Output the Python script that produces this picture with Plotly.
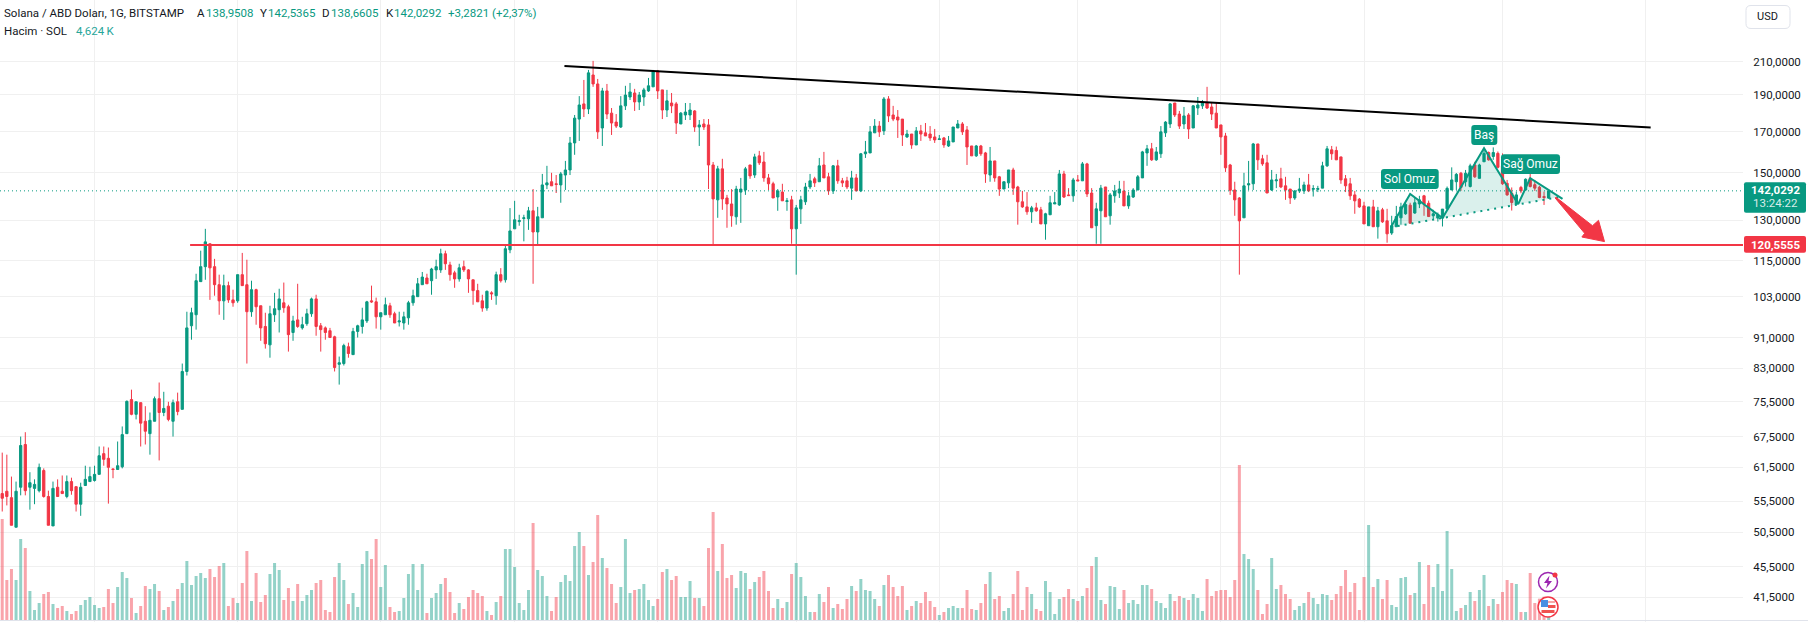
import pandas as pd
import plotly.graph_objects as go

START = "2023-11-11"
OPEN = [56.8,57.2,56.1,51.3,57.9,65.9,57.9,57.7,57.3,60.9,
56.3,51.5,57.9,57.2,56.3,58.9,58.0,55.0,58.2,58.9,
59.1,60.2,64.1,63.2,61.2,61.1,61.6,68.1,75.5,72.2,
74.8,70.7,68.1,70.7,75.7,72.6,74.0,70.7,75.0,73.3,
82.2,94.4,97.6,107.9,112.9,121.0,112.9,106.9,101.8,106.6,
102.1,101.8,110.2,106.9,98.5,105.3,100.3,94.2,89.1,97.6,
99.1,101.2,100.0,92.5,96.1,93.8,95.0,97.9,102.4,94.4,
93.8,93.0,91.3,84.0,84.2,88.6,86.5,92.8,94.2,95.8,
101.8,101.5,97.0,97.6,100.3,97.9,95.5,95.2,96.7,101.2,
103.1,106.9,109.1,108.2,111.8,111.8,117.4,113.5,110.8,108.8,
112.9,111.8,108.5,105.0,101.8,99.6,104.3,103.4,110.2,108.5,
118.8,126.6,129.4,130.6,130.5,133.7,125.4,130.9,144.6,146.0,
145.1,144.6,149.0,151.3,164.2,176.5,184.8,182.0,201.7,196.3,
171.8,192.2,179.7,174.9,172.3,183.7,188.7,191.0,185.9,188.7,
192.2,194.6,204.2,192.8,181.4,185.3,184.8,173.9,178.7,178.7,
180.9,172.3,173.9,173.4,153.6,138.2,151.8,139.0,136.5,131.3,
141.5,142.4,153.6,149.0,157.9,155.0,147.7,145.1,139.4,141.5,
137.5,138.2,126.6,134.5,137.4,143.7,147.3,146.0,153.6,148.2,
142.0,153.2,146.4,146.4,143.2,147.7,142.0,158.9,159.3,169.3,
172.8,170.3,187.6,178.7,177.6,176.5,167.2,168.7,163.2,170.3,
169.3,168.7,167.2,165.9,166.7,162.7,164.7,171.8,173.9,170.8,
162.7,157.9,162.7,159.3,149.0,155.5,148.2,142.8,145.5,151.3,
143.7,137.4,135.3,133.3,134.9,134.1,128.5,132.1,136.5,136.1,
149.5,140.3,139.9,146.8,146.4,154.1,141.1,127.8,133.7,143.7,
131.7,139.9,141.1,142.0,135.7,139.4,142.4,147.7,159.3,161.3,
156.0,158.9,169.3,173.9,185.3,179.2,173.9,178.7,171.8,182.5,
183.7,185.3,183.1,179.7,173.4,167.7,153.6,142.4,139.0,130.9,
144.6,145.1,163.7,156.5,154.6,142.4,146.4,147.3,144.2,142.8,
139.0,142.0,142.0,144.6,142.7,142.7,143.2,153.2,160.8,160.5,
157.4,147.3,145.1,140.3,138.5,135.7,127.8,135.3,127.4,134.1,
129.7,125.0,127.4,130.9,132.5,136.0,132.8,136.5,139.9,136.8,
131.7,130.8,130.8,134.5,142.4,146.0,149.8,146.0,143.9,153.6,
147.5,155.1,159.5,157.6,159.1,153.2,145.3,141.0,136.5,143.5,
142.4,147.5,144.7,143.6,139.6,138.95]
CLOSE = [56.0,56.3,51.6,57.2,65.7,57.3,58.7,58.4,61.5,56.3,
51.6,57.7,56.3,56.8,58.9,57.3,55.0,57.9,59.3,59.8,
60.2,63.7,63.0,61.5,61.1,61.8,67.9,75.1,72.2,75.0,
70.3,68.6,70.9,75.7,72.6,73.5,71.1,74.8,72.8,82.2,
93.8,98.2,108.2,112.9,121.7,112.5,106.9,101.8,106.6,102.1,
101.2,110.2,106.6,98.5,105.3,100.0,93.8,89.4,97.9,99.4,
102.4,99.7,91.9,95.8,94.2,94.7,97.9,102.4,94.2,93.3,
92.5,91.1,83.2,84.4,88.9,86.8,92.8,94.4,96.1,101.5,
101.5,97.0,98.2,100.6,97.6,95.2,95.8,97.0,101.2,103.4,
107.2,109.4,107.2,112.1,112.9,117.4,113.9,110.2,108.8,112.5,
111.8,108.8,105.0,101.5,99.6,104.8,104.0,110.2,108.2,119.2,
125.8,130.1,129.8,130.9,133.7,125.4,131.3,144.6,145.5,144.2,
144.8,149.5,151.3,164.2,177.0,184.2,182.0,203.0,196.3,169.8,
192.2,179.2,174.4,172.8,183.7,189.8,191.6,185.9,189.8,192.8,
195.2,203.6,192.2,181.4,186.5,183.7,174.4,179.7,180.3,181.4,
172.3,173.4,172.3,153.6,138.6,151.8,138.6,136.5,131.7,142.8,
142.8,151.8,148.6,157.4,154.6,147.7,145.1,139.0,142.0,137.8,
137.8,126.6,134.9,138.2,143.7,146.4,145.5,153.2,147.7,142.0,
153.2,146.4,145.5,143.7,147.7,142.0,158.9,159.8,169.8,172.8,
169.8,187.6,178.2,176.5,176.0,168.2,168.7,163.2,170.3,168.7,
167.7,166.7,165.7,166.2,163.2,165.2,172.3,173.9,169.8,162.2,
157.9,162.7,158.9,149.5,155.5,147.7,142.8,146.0,151.3,143.2,
137.4,135.3,133.3,134.9,133.7,128.5,132.5,137.0,137.0,149.5,
139.4,140.0,146.8,146.4,154.1,140.7,127.0,134.5,143.2,131.3,
140.3,142.0,142.8,135.7,139.9,142.4,148.2,159.8,161.3,156.0,
159.8,169.8,174.9,184.8,178.7,172.8,178.2,171.3,183.7,184.2,
185.3,182.5,179.2,171.8,167.2,152.3,142.3,138.2,129.7,144.2,
145.1,163.7,156.0,154.1,141.1,146.8,146.8,143.7,142.4,139.0,
142.0,142.8,144.6,142.0,143.0,143.0,153.2,161.3,158.9,156.0,
146.8,144.2,139.9,137.8,135.3,128.5,135.3,127.4,133.7,129.3,
124.7,127.8,131.4,135.3,136.3,128.8,137.0,138.2,136.5,131.4,
132.5,132.1,134.4,143.1,146.8,149.3,143.5,149.8,153.2,148.2,
153.6,159.1,156.0,159.5,152.5,145.1,140.3,137.1,140.3,142.0,
147.1,143.9,143.2,139.2,139.2,142.03]
HIGH = [64.3,63.9,59.8,58.9,67.5,68.4,60.6,59.3,62.2,61.3,
57.3,58.9,59.3,60.0,60.0,59.6,58.0,58.7,61.8,61.6,
61.8,65.5,65.5,65.3,61.3,66.5,69.6,75.3,77.8,75.0,
74.8,74.0,72.6,76.2,79.5,77.3,75.0,75.5,77.1,84.2,
98.5,99.7,110.5,118.5,126.6,121.0,115.6,110.2,110.2,107.9,
105.3,110.2,117.7,115.3,108.2,105.6,100.3,98.2,100.3,104.3,
105.6,107.6,100.6,97.3,107.2,97.0,99.4,102.8,103.7,95.2,
94.2,93.8,91.6,86.0,89.4,89.7,93.8,94.7,99.7,101.8,
106.6,102.8,98.2,102.8,101.2,98.5,98.5,98.5,101.8,105.3,
109.1,111.1,110.5,112.5,115.3,119.2,118.5,114.6,111.5,113.9,
115.0,112.1,108.5,107.2,103.7,105.0,104.8,111.2,112.4,120.3,
134.8,137.8,132.1,132.1,135.3,142.8,135.3,149.5,153.2,150.0,
149.0,150.4,155.5,167.2,178.7,189.2,198.7,204.8,210.5,199.3,
194.0,196.3,182.5,179.2,189.2,195.2,196.9,193.4,191.6,194.0,
199.9,204.8,204.8,192.8,192.8,191.0,185.9,180.3,185.3,185.3,
181.4,176.0,176.5,176.5,155.0,153.2,156.5,140.3,142.8,144.2,
147.7,152.7,153.6,158.9,160.3,159.8,149.5,146.0,142.8,145.1,
139.0,139.9,136.1,139.9,145.5,149.5,148.2,156.9,159.8,150.0,
153.6,156.0,147.7,148.2,150.9,149.5,159.3,165.2,172.8,176.5,
175.4,188.7,189.2,183.7,181.4,176.5,170.8,168.7,172.3,173.4,
174.4,172.8,171.3,168.2,167.2,167.7,172.3,176.0,174.9,172.8,
162.7,163.2,163.2,159.8,162.2,155.5,148.6,146.0,151.3,152.3,
144.2,142.0,141.5,135.7,137.0,135.3,132.9,139.9,141.5,151.3,
150.9,143.2,147.7,149.0,155.0,154.6,143.2,137.0,144.6,143.7,
141.1,144.6,146.4,146.4,141.5,143.2,149.0,160.3,163.2,164.2,
162.2,172.8,175.4,185.3,185.3,180.9,183.1,179.7,184.2,188.7,
187.0,194.6,185.3,185.3,173.4,169.3,154.1,146.0,139.4,150.0,
155.5,164.2,163.7,158.4,158.4,151.3,149.5,152.3,148.2,142.8,
142.4,147.7,146.0,149.5,144.5,144.2,155.1,162.7,162.7,162.4,
157.4,149.0,147.7,142.0,139.0,137.4,135.3,138.2,135.3,134.9,
134.5,131.7,135.7,137.0,137.5,137.0,139.0,139.9,140.3,137.9,
134.1,133.0,134.4,143.9,152.5,149.9,150.4,151.3,154.2,155.1,
154.2,161.6,160.0,162.0,160.0,159.1,146.8,143.5,141.7,144.2,
147.5,152.5,146.8,144.2,141.7,142.54]
LOW = [53.8,54.8,51.6,51.3,56.5,56.5,54.1,55.0,57.0,56.1,
51.6,51.5,56.3,56.8,56.0,56.6,53.8,53.1,58.2,58.9,
58.9,60.2,61.8,55.1,59.5,61.1,61.3,68.1,72.0,71.1,
65.5,65.9,63.9,70.7,62.8,71.8,70.7,67.5,72.0,73.3,
81.2,90.5,93.3,107.9,108.5,102.1,103.4,97.6,96.1,101.2,
100.0,101.2,106.6,84.2,97.0,94.7,90.2,88.1,85.7,95.5,
92.5,98.2,87.3,90.2,93.8,93.3,94.4,97.0,91.6,87.3,
90.5,91.1,82.2,79.0,83.7,85.7,86.5,91.1,92.2,95.2,
101.2,93.6,93.3,97.6,96.7,95.2,94.2,93.3,94.7,100.3,
103.1,106.9,107.2,103.7,108.8,110.8,111.8,108.2,105.9,107.9,
111.1,104.3,100.6,101.5,98.5,98.8,102.1,100.6,107.6,107.6,
117.6,126.6,127.8,121.9,126.2,107.2,120.6,130.9,142.8,144.2,
141.1,137.0,142.4,149.0,158.4,165.2,177.6,179.2,194.6,166.2,
162.7,176.5,168.2,171.8,171.8,181.4,187.0,180.9,181.4,183.7,
191.6,194.6,187.6,176.5,177.6,179.7,168.7,173.9,176.0,176.0,
169.8,162.7,170.8,142.8,120.7,130.9,134.1,127.0,127.4,128.2,
128.9,140.3,147.3,147.7,153.6,146.0,142.4,139.0,133.7,137.8,
133.7,121.0,110.2,128.5,136.1,142.8,143.7,146.0,147.7,140.3,
140.7,145.1,143.7,142.8,138.2,142.0,141.5,156.9,159.3,169.3,
167.2,168.2,174.9,175.4,166.7,162.7,166.7,161.3,163.2,165.2,
167.7,165.2,164.2,165.7,161.8,162.2,164.7,171.8,168.2,153.6,
157.9,157.4,157.9,145.5,146.0,146.0,139.9,142.8,143.2,140.3,
128.2,134.9,132.1,128.9,133.3,128.5,122.5,132.1,136.5,135.7,
139.0,139.9,137.4,146.4,146.4,139.4,127.0,121.0,121.0,131.3,
128.2,137.0,139.0,135.7,134.5,139.0,142.4,147.7,153.2,155.5,
155.5,156.9,167.2,171.8,177.6,171.3,171.3,166.2,171.8,178.7,
182.0,182.0,176.0,171.8,158.4,150.4,140.3,131.7,110.2,130.9,
142.4,142.4,151.3,153.2,141.1,142.0,143.2,143.2,138.2,136.5,
138.2,141.1,140.7,141.5,139.6,141.5,143.2,152.7,156.0,156.0,
145.1,141.5,138.2,132.5,134.9,128.5,127.8,127.4,122.9,128.9,
121.4,124.3,127.4,128.2,132.1,128.5,132.5,134.8,131.7,131.2,
130.1,129.4,127.5,134.1,142.4,142.4,142.0,143.9,143.5,147.7,
147.5,155.1,155.6,156.0,152.0,144.6,139.9,133.8,136.1,141.0,
142.1,143.5,142.0,138.9,136.1,138.66]
VOLUME_K = [151.5,60,76.5,60,121.5,108,43.5,15,25.5,39,
42,24,18,21,13.5,9,13.5,22.5,30,34.5,
22.5,18,19.5,46.5,25.5,49.5,72,63,33,10.5,
21,51,46.5,54,43.5,15,19.5,28.5,46.5,55.5,
88.5,52.5,66,70.5,63,76.5,64.5,81,85.5,21,
33,25.5,55.5,103.5,28.5,70.5,27,37.5,69,85.5,
75,30,48,28.5,54,28.5,37.5,45,55.5,60,
15,12,64.5,85.5,60,24,40.5,19.5,84,103.5,
91.5,121.5,49.5,82.5,19.5,12,13.5,33,69,84,
45,84,10.5,33,40.5,54,63,42,10.5,25.5,
16.5,34.5,45,40.5,36,13.5,7.5,27,36,106.5,
106.5,79.5,25.5,15,45,145.5,75,66,36,13.5,
34.5,57,67.5,58.5,111,132,111,67.5,87,157.5,
93,78,54,25.5,49.5,121.5,40.5,45,46.5,54,
30,21,31.5,72,76.5,60,66,34.5,34.5,58.5,
33,33,21,108,162,73.5,114,63,67.5,48,
73.5,70.5,46.5,57,64.5,73.5,43.5,18,31.5,18,
27,69,85.5,64.5,36,12,12,39,27,49.5,
18,24,16.5,31.5,51,43.5,61.5,45,43.5,31.5,
21,52.5,67.5,49.5,36,51,15,21,28.5,25.5,
42,28.5,19.5,7.5,12,18,21,18,18,45,
16.5,15,25.5,54,72,31.5,36,13.5,18,39,
73.5,15,49.5,39,16.5,13.5,58.5,42,9,31.5,
34.5,46.5,31.5,28.5,36,48,81,94.5,30,24,
51,49.5,16.5,45,25.5,30,24,52.5,52.5,46.5,
28.5,25.5,18,39,28.5,36,33,30,39,33,
13.5,61.5,36,43.5,45,45,34.5,60,232.5,99,
91.5,76.5,45,9,24,93,46.5,52.5,39,31.5,
15,21,25.5,42,33,24,39,37.5,30,39,
51,75,42,55.5,15,64.5,142.5,49.5,61.5,31.5,
60,22.5,19.5,63,64.5,37.5,40.5,87,24,82.5,
49.5,84,43.5,133.5,76.5,13.5,18,22.5,42,28.5,
45,67.5,21,31.5,24,42,60,55.5,54,12,
12,70.5,25.5,32,35,4.6]

PRICE_TICKS = [41.5,45.5,50.5,55.5,61.5,67.5,75,83,91,103,115,130,150,170,190,210]
PRICE_LABELS = ["41,5000","45,5000","50,5000","55,5000","61,5000","67,5000","75,5000","83,0000",
                "91,0000","103,0000","115,0000","130,0000","150,0000","170,0000","190,0000","210,0000"]
LAST_PRICE = 142.0292
SUPPORT = 120.5555
TREND_DAY = [121.8, 357.1]
TREND_PRICE = [207.3, 172.0]
HS_DAY = [300.8, 305, 312, 321, 328.4, 331, 338]
HS_PRICE = [127.2, 140.7, 130.8, 161.6, 136.4, 147.6, 138.6]
NECK_DAY = [300.8, 312, 328.4, 337.1]
NECK_PRICE = [127.2, 130.8, 136.4, 139.3]
ARROW_DAY = [336.6, 344.5, 345.8, 347.1, 342.2, 342.8, 336.4, 336.6]
ARROW_PRICE = [139.3, 127.8, 129.9, 121.8, 123.5, 124.9, 139.0, 139.3]

UP, DOWN = "#089981", "#F23645"
TXT = "#131722"
FONT = "Roboto"
W, H, PLOT_W = 1808, 622, 1743

base = pd.Timestamp(START)
def day(d):
    return (base + pd.Timedelta(days=d)).isoformat()
dates = [day(i) for i in range(len(OPEN))]
vol_colors = ["rgba(8,153,129,0.44)" if c >= o else "rgba(242,54,69,0.45)" for o, c in zip(OPEN, CLOSE)]

fig = go.Figure()
fig.add_bar(x=dates, y=VOLUME_K, marker=dict(color=vol_colors, line_width=0), yaxis="y", hoverinfo="skip")
x_ends = [day(-0.48), day(377.1)]
fig.add_scatter(x=x_ends, y=[LAST_PRICE]*2, yaxis="y2", mode="lines", hoverinfo="skip",
                line=dict(color=UP, width=1, dash="1px,3px"))
fig.add_candlestick(x=dates, open=OPEN, high=HIGH, low=LOW, close=CLOSE, yaxis="y2", hoverinfo="skip",
                    increasing=dict(line=dict(color=UP, width=1), fillcolor=UP),
                    decreasing=dict(line=dict(color=DOWN, width=1), fillcolor=DOWN),
                    whiskerwidth=0)
# head-and-shoulders fill
tx, ty = [], []
for tri in ([0, 1, 2, 0], [2, 3, 4, 2]):
    tx += [day(HS_DAY[k]) for k in tri] + [None]
    ty += [HS_PRICE[k] for k in tri] + [None]
tx += [day(HS_DAY[4]), day(HS_DAY[5]), day(NECK_DAY[3]), day(HS_DAY[4])]
ty += [HS_PRICE[4], HS_PRICE[5], NECK_PRICE[3], HS_PRICE[4]]
fig.add_scatter(x=tx, y=ty, yaxis="y2", mode="none", fill="toself", fillcolor="rgba(8,153,129,0.15)", hoverinfo="skip")
fig.add_scatter(x=[day(d) for d in HS_DAY], y=HS_PRICE, yaxis="y2", mode="lines", hoverinfo="skip",
                line=dict(color=UP, width=2))
fig.add_scatter(x=[day(d) for d in NECK_DAY], y=NECK_PRICE, yaxis="y2", mode="lines", hoverinfo="skip",
                line=dict(color=UP, width=2, dash="2px,5px"))
fig.add_scatter(x=[day(d) for d in TREND_DAY], y=TREND_PRICE, yaxis="y2", mode="lines", hoverinfo="skip",
                line=dict(color="#000000", width=2))
fig.add_scatter(x=[day(40.7), day(377.1)], y=[SUPPORT]*2, yaxis="y2", mode="lines", hoverinfo="skip",
                line=dict(color=DOWN, width=2))
fig.add_scatter(x=[day(d) for d in ARROW_DAY], y=ARROW_PRICE, yaxis="y2", mode="lines", fill="toself",
                fillcolor=DOWN, line=dict(color=DOWN, width=1), hoverinfo="skip")

def fx(p): return p / PLOT_W
def fy(p): return 1 - p / H
def rounded(x0, y0, x1, y1, r):
    P = lambda a, b: f"{fx(a):.6f},{fy(b):.6f}"
    return (f"M {P(x0+r,y0)} L {P(x1-r,y0)} Q {P(x1,y0)} {P(x1,y0+r)} L {P(x1,y1-r)} Q {P(x1,y1)} {P(x1-r,y1)} "
            f"L {P(x0+r,y1)} Q {P(x0,y1)} {P(x0,y1-r)} L {P(x0,y0+r)} Q {P(x0,y0)} {P(x0+r,y0)} Z")
def pshape(path, fill, line=None, lw=1):
    return dict(type="path", xref="paper", yref="paper", path=path, fillcolor=fill, layer="above",
                line=dict(color=line or "rgba(0,0,0,0)", width=lw if line else 0))
def circle(cx, cy, r, fill, line=None, lw=1):
    return dict(type="circle", xref="paper", yref="paper", x0=fx(cx-r), x1=fx(cx+r), y0=fy(cy+r), y1=fy(cy-r),
                fillcolor=fill, layer="above", line=dict(color=line or "rgba(0,0,0,0)", width=lw if line else 0))
def poly(pts):
    return "M " + " L ".join(f"{fx(a):.6f},{fy(b):.6f}" for a, b in pts) + " Z"

shapes = [
    dict(type="line", xref="paper", yref="paper", x0=0, x1=fx(W), y0=fy(620.5), y1=fy(620.5),
         line=dict(color="#E0E3EB", width=1), layer="above"),
    pshape(rounded(1381, 169, 1438.7, 189, 3), UP),
    pshape(rounded(1471.3, 125, 1497.3, 145, 3), UP),
    pshape(rounded(1501, 154.3, 1560, 174, 3), UP),
    pshape(rounded(1744, 182.3, 1806, 212.7, 2), UP),
    pshape(rounded(1744, 236, 1806, 252.7, 2), DOWN),
    pshape(rounded(1746, 5.5, 1790, 28.5, 5), "#FFFFFF", "#E0E3EB", 1),
    # event icons
    circle(1548, 582, 9.5, "#FFFFFF", "#9C27B0", 1.5),
    pshape(poly([(1549.5, 575.5), (1544, 583), (1547.5, 583), (1546, 588.5), (1552, 581), (1548.5, 581)]), "#9C27B0"),
    circle(1555, 575, 2.5, DOWN),
    circle(1548, 607, 10, "#FFFFFF", DOWN, 1.5),
    pshape(poly([(1541, 600), (1548, 600), (1548, 607), (1541, 607)]), "#4A90E2"),
    pshape(poly([(1548, 601), (1555, 601), (1555, 603), (1548, 603)]), "#F7A9A7"),
    pshape(poly([(1548, 605), (1555.5, 605), (1555.5, 608), (1548, 608)]), "#EF5350"),
    pshape(poly([(1541.5, 610), (1554.5, 610), (1554.5, 613), (1541.5, 613)]), "#EF5350"),
]

def note(x, y, text, color=TXT, size=11.5, anchor="left", weight=None):
    t = f"<b>{text}</b>" if weight else text
    return dict(xref="paper", yref="paper", x=fx(x), y=fy(y), text=t, showarrow=False, xanchor=anchor, yanchor="middle",
                font=dict(family=FONT, size=size, color=color), align=anchor, borderpad=0, borderwidth=0)

annotations = [
    note(4, 13.5, "Solana / ABD Doları, 1G, BITSTAMP"),
    note(197, 13.5, "A"), note(206, 13.5, "138,9508", UP),
    note(260, 13.5, "Y"), note(268, 13.5, "142,5365", UP),
    note(322, 13.5, "D"), note(331, 13.5, "138,6605", UP),
    note(385.5, 13.5, "K"), note(394, 13.5, "142,0292", UP),
    note(448, 13.5, "+3,2821 (+2,37%)", UP),
    note(4, 31, "Hacim · SOL"), note(76, 31, "4,624\u2009K", "#26A69A"),
    note(1409.8, 179, "Sol Omuz", "#FFFFFF", 12, "center"),
    note(1484.3, 135, "Baş", "#FFFFFF", 12, "center"),
    note(1530.5, 164, "Sağ Omuz", "#FFFFFF", 12, "center"),
    note(1775, 189.5, "142,0292", "#FFFFFF", 11.5, "center", True),
    note(1775, 203, "13:24:22", "rgba(255,255,255,0.85)", 11.5, "center"),
    note(1775, 244.5, "120,5555", "#FFFFFF", 11.5, "center", True),
    note(1768, 17, "USD", TXT, 11, "center"),
]

fig.update_layout(
    width=W, height=H, margin=dict(l=0, r=W-PLOT_W, t=0, b=0), paper_bgcolor="#FFFFFF", plot_bgcolor="#FFFFFF",
    showlegend=False, bargap=0.35, boxgap=0.3, shapes=shapes, annotations=annotations,
    font=dict(family=FONT, color=TXT),
    xaxis=dict(type="date", range=x_ends, rangeslider=dict(visible=False), showticklabels=False, ticks="",
               dtick="M1", tick0="2023-12-01", showgrid=True, gridcolor="#F0F0F0", gridwidth=1, zeroline=False, showline=False),
    yaxis=dict(range=[-3, 930], showticklabels=False, showgrid=False, zeroline=False, ticks=""),
    yaxis2=dict(type="log", overlaying="y", side="right", range=[1.5855, 2.4033], tickmode="array",
                tickvals=PRICE_TICKS, ticktext=PRICE_LABELS, showgrid=True, gridcolor="#F0F0F0", gridwidth=1,
                zeroline=False, showline=False, ticks="outside", ticklen=7, tickcolor="rgba(0,0,0,0)",
                tickfont=dict(family=FONT, size=11.5, color=TXT)),
)
fig.write_html("out.html", config=dict(displayModeBar=False),
               post_script="document.body.style.margin='0';document.body.style.overflow='hidden';")
